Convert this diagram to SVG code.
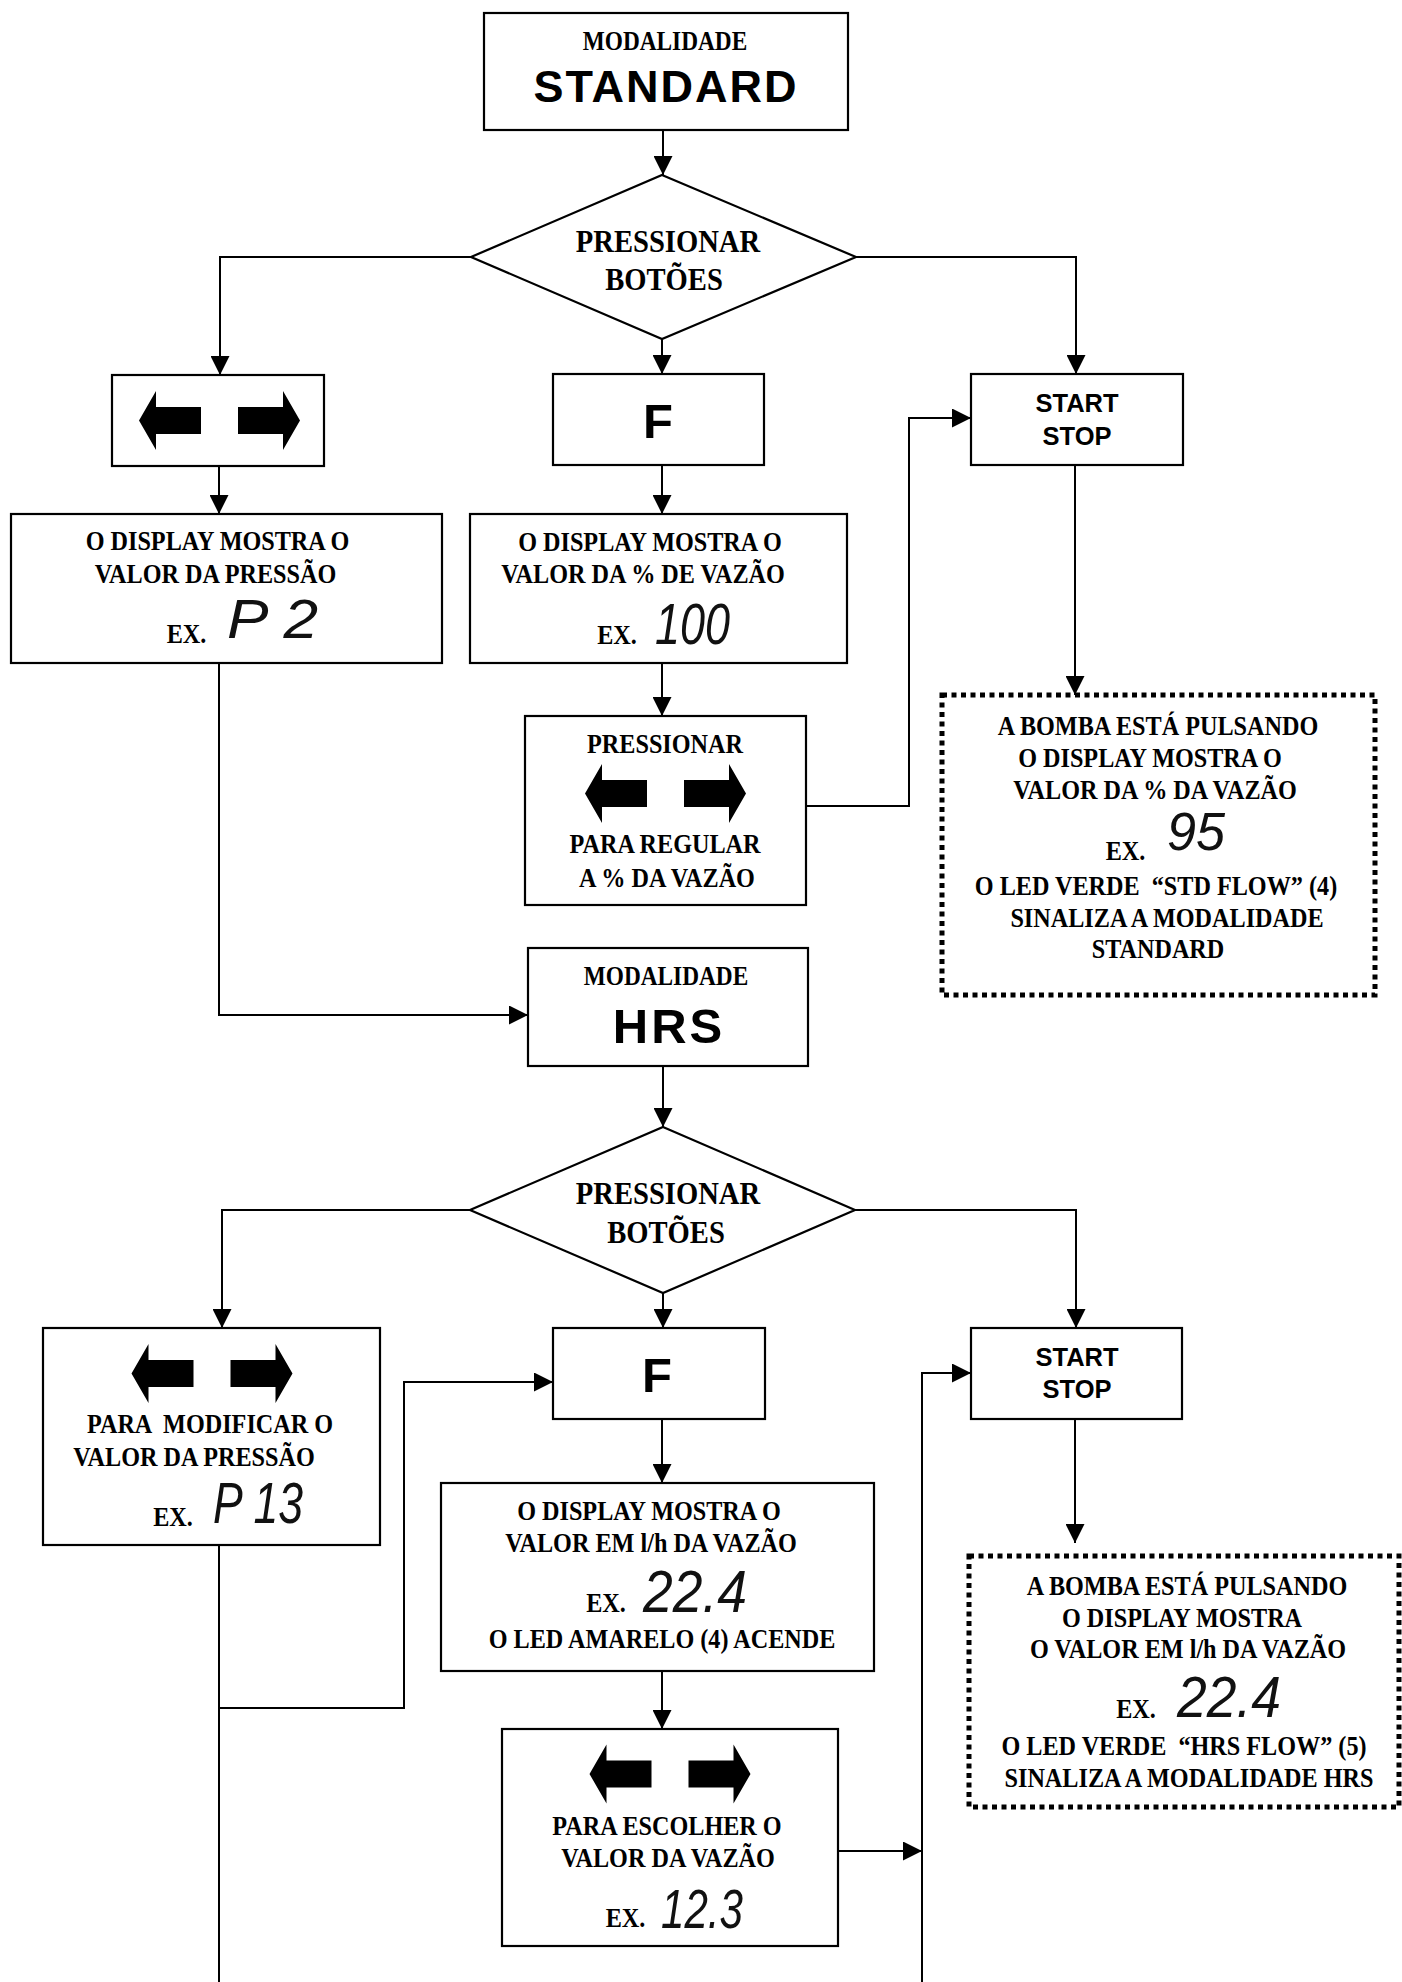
<svg xmlns="http://www.w3.org/2000/svg" width="1402" height="1982" viewBox="0 0 1402 1982">
<style>
.box{fill:#fff;stroke:#000;stroke-width:2.2}
.dash{fill:none;stroke:#000;stroke-width:5;stroke-dasharray:5 4.5}
.ln{fill:none;stroke:#000;stroke-width:2}
.s{font-family:"Liberation Serif","Times New Roman",serif;font-weight:bold;font-size:27.5px;text-anchor:middle;fill:#000;white-space:pre}
.m{font-size:26.5px}
.d{font-size:32.5px}
.ss{font-family:"Liberation Sans",Arial,sans-serif;font-weight:bold;text-anchor:middle;fill:#000}
.big{font-size:45px;letter-spacing:2px}
.f{font-size:49px}
.st{font-size:25.5px}
.seg{font-family:"Liberation Sans",Arial,sans-serif;font-style:italic;fill:#111}
</style>
<defs>
<marker id="ah" viewBox="0 0 10 10" refX="10" refY="5" markerWidth="20" markerHeight="19" markerUnits="userSpaceOnUse" orient="auto">
<path d="M0,0 L10,5 L0,10 z" fill="#000"/>
</marker>
<g id="arrows">
<path d="M-80.5,0 L-63.5,-29.5 L-63.5,-13.5 L-18.5,-13.5 L-18.5,13.5 L-63.5,13.5 L-63.5,29.5 Z" fill="#000"/>
<path d="M80.5,0 L63.5,-29.5 L63.5,-13.5 L18.5,-13.5 L18.5,13.5 L63.5,13.5 L63.5,29.5 Z" fill="#000"/>
</g>
</defs>
<rect width="1402" height="1982" fill="#fff"/>

<g id="connectors">
<path class="ln" d="M663,130 V175" marker-end="url(#ah)"/>
<path class="ln" d="M471,257 H220 V375" marker-end="url(#ah)"/>
<path class="ln" d="M662,339 V374" marker-end="url(#ah)"/>
<path class="ln" d="M856,257 H1076 V374" marker-end="url(#ah)"/>
<path class="ln" d="M219,466 V514" marker-end="url(#ah)"/>
<path class="ln" d="M662,465 V514" marker-end="url(#ah)"/>
<path class="ln" d="M662,663 V716" marker-end="url(#ah)"/>
<path class="ln" d="M806,806 H909 V418 H971" marker-end="url(#ah)"/>
<path class="ln" d="M1075,465 V695" marker-end="url(#ah)"/>
<path class="ln" d="M219,663 V1015 H528" marker-end="url(#ah)"/>
<path class="ln" d="M663,1066 V1127" marker-end="url(#ah)"/>
<path class="ln" d="M470,1210 H222 V1328" marker-end="url(#ah)"/>
<path class="ln" d="M663,1293 V1328" marker-end="url(#ah)"/>
<path class="ln" d="M855,1210 H1076 V1328" marker-end="url(#ah)"/>
<path class="ln" d="M219,1545 V1982"/>
<path class="ln" d="M219,1708 H404 V1382 H553" marker-end="url(#ah)"/>
<path class="ln" d="M662,1419 V1483" marker-end="url(#ah)"/>
<path class="ln" d="M662,1671 V1729" marker-end="url(#ah)"/>
<path class="ln" d="M838,1851 H922" marker-end="url(#ah)"/>
<path class="ln" d="M922,1982 V1373 H971" marker-end="url(#ah)"/>
<path class="ln" d="M1075,1419 V1543" marker-end="url(#ah)"/>
</g>

<g id="n-standard">
<rect class="box" x="484" y="13" width="364" height="117"/>
<text class="s m" transform="translate(665 50) scale(0.88 1)">MODALIDADE</text>
<text class="ss big" x="666" y="102">STANDARD</text>
</g>

<g id="n-dec1">
<polygon class="box" points="662,175 856,257 662,339 471,257"/>
<text class="s d" transform="translate(668 252) scale(0.88 1)">PRESSIONAR</text>
<text class="s d" transform="translate(664 290) scale(0.88 1)">BOTÕES</text>
</g>

<g id="n-arrows1">
<rect class="box" x="112" y="375" width="212" height="91"/>
<use href="#arrows" x="219.5" y="420.5"/>
</g>

<g id="n-disp1">
<rect class="box" x="11" y="514" width="431" height="149"/>
<text class="s" transform="translate(217.5 550) scale(0.88 1)">O DISPLAY MOSTRA O</text>
<text class="s" transform="translate(215.5 583) scale(0.88 1)">VALOR DA PRESSÃO</text>
<text class="s" transform="translate(186.5 643) scale(0.88 1)">EX.</text>
<text class="seg" x="227" y="638" font-size="56" textLength="91" lengthAdjust="spacingAndGlyphs">P 2</text>
</g>

<g id="n-f1">
<rect class="box" x="553" y="374" width="211" height="91"/>
<text class="ss f" x="658" y="438">F</text>
</g>

<g id="n-disp2">
<rect class="box" x="470" y="514" width="377" height="149"/>
<text class="s" transform="translate(650 551) scale(0.88 1)">O DISPLAY MOSTRA O</text>
<text class="s" transform="translate(643 583) scale(0.88 1)">VALOR DA % DE VAZÃO</text>
<text class="s" transform="translate(617 644) scale(0.88 1)">EX.</text>
<text class="seg" x="655" y="644" font-size="57" textLength="75" lengthAdjust="spacingAndGlyphs">100</text>
</g>

<g id="n-press">
<rect class="box" x="525" y="716" width="281" height="189"/>
<text class="s" transform="translate(665 753) scale(0.88 1)">PRESSIONAR</text>
<use href="#arrows" x="665.5" y="793.5"/>
<text class="s" transform="translate(665 853) scale(0.88 1)">PARA REGULAR</text>
<text class="s" transform="translate(667 887) scale(0.88 1)">A % DA VAZÃO</text>
</g>

<g id="n-start1">
<rect class="box" x="971" y="374" width="212" height="91"/>
<text class="ss st" x="1077" y="412">START</text>
<text class="ss st" x="1077" y="444.5">STOP</text>
</g>

<g id="n-pump1">
<rect class="dash" x="942" y="695" width="433" height="300"/>
<text class="s" transform="translate(1158 735) scale(0.88 1)">A BOMBA ESTÁ PULSANDO</text>
<text class="s" transform="translate(1150 767) scale(0.88 1)">O DISPLAY MOSTRA O</text>
<text class="s" transform="translate(1155 799) scale(0.88 1)">VALOR DA % DA VAZÃO</text>
<text class="s" transform="translate(1125.5 860) scale(0.88 1)">EX.</text>
<text class="seg" x="1167" y="850" font-size="54" textLength="58" lengthAdjust="spacingAndGlyphs">95</text>
<text class="s" transform="translate(1156 895) scale(0.88 1)">O LED VERDE  “STD FLOW” (4)</text>
<text class="s" transform="translate(1167 927) scale(0.88 1)">SINALIZA A MODALIDADE</text>
<text class="s" transform="translate(1158 958) scale(0.88 1)">STANDARD</text>
</g>

<g id="n-hrs">
<rect class="box" x="528" y="948" width="280" height="118"/>
<text class="s m" transform="translate(666 985) scale(0.88 1)">MODALIDADE</text>
<text class="ss f" x="669" y="1043" letter-spacing="3">HRS</text>
</g>

<g id="n-dec2">
<polygon class="box" points="663,1127 855,1210 663,1293 470,1210"/>
<text class="s d" transform="translate(668 1204) scale(0.88 1)">PRESSIONAR</text>
<text class="s d" transform="translate(666 1243) scale(0.88 1)">BOTÕES</text>
</g>

<g id="n-press2">
<rect class="box" x="43" y="1328" width="337" height="217"/>
<use href="#arrows" x="212" y="1373.5"/>
<text class="s" transform="translate(210 1433) scale(0.88 1)">PARA  MODIFICAR O</text>
<text class="s" transform="translate(194 1466) scale(0.88 1)">VALOR DA PRESSÃO</text>
<text class="s" transform="translate(173 1526) scale(0.88 1)">EX.</text>
<text class="seg" x="213" y="1523" font-size="57" textLength="90" lengthAdjust="spacingAndGlyphs">P 13</text>
</g>

<g id="n-f2">
<rect class="box" x="553" y="1328" width="212" height="91"/>
<text class="ss f" x="657" y="1392">F</text>
</g>

<g id="n-disp3">
<rect class="box" x="441" y="1483" width="433" height="188"/>
<text class="s" transform="translate(649 1520) scale(0.88 1)">O DISPLAY MOSTRA O</text>
<text class="s" transform="translate(651 1552) scale(0.88 1)">VALOR EM l/h DA VAZÃO</text>
<text class="s" transform="translate(606 1612) scale(0.88 1)">EX.</text>
<text class="seg" x="643" y="1612" font-size="60" textLength="104" lengthAdjust="spacingAndGlyphs">22.4</text>
<text class="s" transform="translate(662 1648) scale(0.88 1)">O LED AMARELO (4) ACENDE</text>
</g>

<g id="n-choose">
<rect class="box" x="502" y="1729" width="336" height="217"/>
<use href="#arrows" x="670" y="1774"/>
<text class="s" transform="translate(667 1835) scale(0.88 1)">PARA ESCOLHER O</text>
<text class="s" transform="translate(668 1867) scale(0.88 1)">VALOR DA VAZÃO</text>
<text class="s" transform="translate(625.5 1927) scale(0.88 1)">EX.</text>
<text class="seg" x="661" y="1928" font-size="56" textLength="82" lengthAdjust="spacingAndGlyphs">12.3</text>
</g>

<g id="n-start2">
<rect class="box" x="971" y="1328" width="211" height="91"/>
<text class="ss st" x="1077" y="1366">START</text>
<text class="ss st" x="1077" y="1398">STOP</text>
</g>

<g id="n-pump2">
<rect class="dash" x="969" y="1556" width="430" height="251"/>
<text class="s" transform="translate(1187 1595) scale(0.88 1)">A BOMBA ESTÁ PULSANDO</text>
<text class="s" transform="translate(1182 1627) scale(0.88 1)">O DISPLAY MOSTRA</text>
<text class="s" transform="translate(1188 1658) scale(0.88 1)">O VALOR EM l/h DA VAZÃO</text>
<text class="s" transform="translate(1136 1718) scale(0.88 1)">EX.</text>
<text class="seg" x="1177" y="1717" font-size="58" textLength="104" lengthAdjust="spacingAndGlyphs">22.4</text>
<text class="s" transform="translate(1184 1755) scale(0.88 1)">O LED VERDE  “HRS FLOW” (5)</text>
<text class="s" transform="translate(1189 1787) scale(0.88 1)">SINALIZA A MODALIDADE HRS</text>
</g>
</svg>
